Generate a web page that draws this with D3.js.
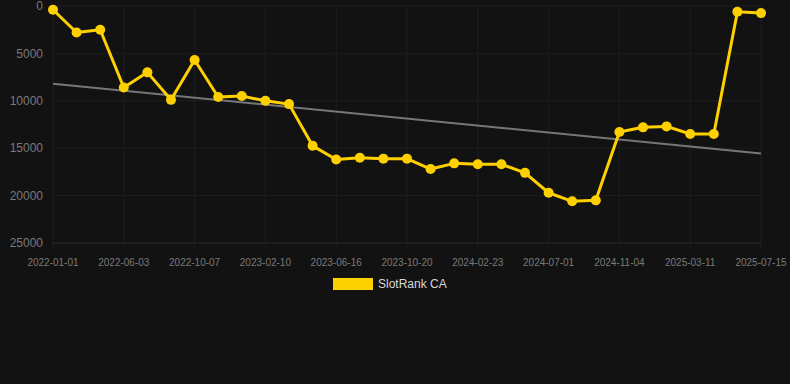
<!DOCTYPE html>
<html>
<head>
<meta charset="utf-8">
<script src="https://cdn.jsdelivr.net/npm/d3@7"></script>
<style>
  html, body { margin: 0; padding: 0; background: #121212; }
  svg { display: block; font-family: "Liberation Sans", Arial, sans-serif; }
</style>
</head>
<body>
<div id="chart"></div>
<script>
// one rank value per point, 31 points
const ranks = [400, 2800, 2500, 8600, 7000, 9900, 5700, 9600, 9500, 10000,
	10350, 14750, 16200, 16000, 16100, 16100, 17200, 16600, 16700, 16700,
	17600, 19700, 20600, 20500, 13300, 12800, 12700, 13500, 13500, 600, 750];
// labels shown on every third point
const tickLabels = ['2022-01-01', '2022-06-03', '2022-10-07', '2023-02-10', '2023-06-16',
	'2023-10-20', '2024-02-23', '2024-07-01', '2024-11-04', '2025-03-11', '2025-07-15'];
const yTicks = [0, 5000, 10000, 15000, 20000, 25000];
const seriesName = 'SlotRank CA';

const width = 790, height = 384;
const svg = d3.select('#chart').append('svg')
	.attr('width', width)
	.attr('height', height);

svg.append('rect').attr('width', width).attr('height', height).attr('fill', '#121212');

const idx = ranks.map((d, i) => i);

const x = d3.scalePoint()
	.domain(idx)
	.range([53, 761]);

const y = d3.scaleLinear()
	.domain([0, 25000])
	.range([6, 243]);

// grid
const grid = svg.append('g');
grid.selectAll('.hgrid').data(yTicks).enter().append('line')
	.attr('x1', 53).attr('x2', 761)
	.attr('y1', d => y(d)).attr('y2', d => y(d))
	.attr('stroke', d => d === 25000 ? '#2a2a2a' : '#1e1e1e').attr('stroke-width', 1);
const tickIdx = idx.filter(i => i % 3 === 0);
grid.selectAll('.vgrid').data(tickIdx).enter().append('line')
	.attr('x1', d => x(d)).attr('x2', d => x(d))
	.attr('y1', 6).attr('y2', 250)
	.attr('stroke', '#1e1e1e').attr('stroke-width', 1);

// y labels
svg.append('g').selectAll('text').data(yTicks).enter().append('text')
	.attr('x', 43)
	.attr('y', d => y(d))
	.attr('dy', '0.35em')
	.attr('text-anchor', 'end')
	.attr('fill', '#7a7a7a')
	.attr('font-size', 12)
	.text(d => d);

// x labels
svg.append('g').selectAll('text').data(tickIdx).enter().append('text')
	.attr('x', d => x(d))
	.attr('y', 262)
	.attr('dy', '0.35em')
	.attr('text-anchor', 'middle')
	.attr('fill', '#7a7a7a')
	.attr('font-size', 10)
	.text((d, i) => tickLabels[i]);

// linear regression trend
const n = ranks.length;
const mx = d3.mean(idx), my = d3.mean(ranks);
const slope = d3.sum(idx, i => (i - mx) * (ranks[i] - my)) / d3.sum(idx, i => (i - mx) * (i - mx));
const icpt = my - slope * mx;
svg.append('line')
	.attr('x1', x(0)).attr('y1', y(icpt))
	.attr('x2', x(n - 1)).attr('y2', y(icpt + slope * (n - 1)))
	.attr('stroke', '#777').attr('stroke-width', 2);

// series
const line = d3.line()
	.x((d, i) => x(i))
	.y(d => y(d));

svg.append('path')
	.datum(ranks)
	.attr('fill', 'none')
	.attr('stroke', '#ffd000')
	.attr('stroke-width', 3)
	.attr('stroke-linejoin', 'round')
	.attr('d', line);

svg.append('g').selectAll('circle').data(ranks).enter().append('circle')
	.attr('cx', (d, i) => x(i))
	.attr('cy', d => y(d))
	.attr('r', 5)
	.attr('fill', '#ffd000');

// legend
const legend = svg.append('g');
legend.append('rect')
	.attr('x', 333).attr('y', 278)
	.attr('width', 40).attr('height', 12)
	.attr('fill', '#ffd000');
legend.append('text')
	.attr('x', 378).attr('y', 284)
	.attr('dy', '0.35em')
	.attr('fill', '#d8d8d8')
	.attr('font-size', 12)
	.text(seriesName);
</script>
</body>
</html>
